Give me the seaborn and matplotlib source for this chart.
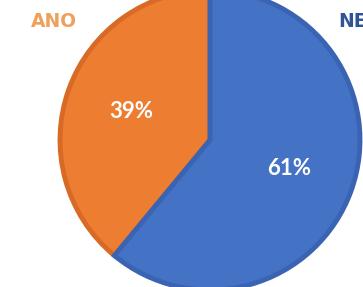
import matplotlib
matplotlib.use("Agg")
import matplotlib.pyplot as plt
import seaborn as sns

categories = ["ANO", "NE"]
values = [39, 61]
colors = ["#ED7D31", "#4472C4"]
edge_colors = ["#D86A25", "#3A63B3"]
label_colors = ["#EFA05A", "#2F5597"]

sns.set_theme(style="white")
plt.rcParams["font.family"] = ["Lato", "DejaVu Sans"]

fig = plt.figure(figsize=(3.63, 2.87), dpi=100)
ax = fig.add_axes([0, 0, 1, 1])

wedges, texts, autotexts = ax.pie(
    values, colors=colors, startangle=90, counterclock=True,
    autopct="%1.0f%%", pctdistance=0.56,
    textprops=dict(color="white", fontsize=16, fontweight="bold"),
    wedgeprops=dict(linewidth=3.5),
)
for w, ec in zip(wedges, edge_colors):
    w.set_edgecolor(ec)

ax.set_xlim(-1.4, 1.02)
ax.set_ylim(-0.98, 0.933)
ax.set_aspect("auto")
ax.axis("off")

ax.text(-1.04, 0.787, categories[0], color=label_colors[0], fontsize=13.5,
        fontweight="bold", ha="center", va="center", family=["DejaVu Sans"])
ax.text(0.853, 0.787, categories[1], color=label_colors[1], fontsize=13.5,
        fontweight="bold", ha="left", va="center", family=["DejaVu Sans"])

fig.savefig("out.png", dpi=100)
